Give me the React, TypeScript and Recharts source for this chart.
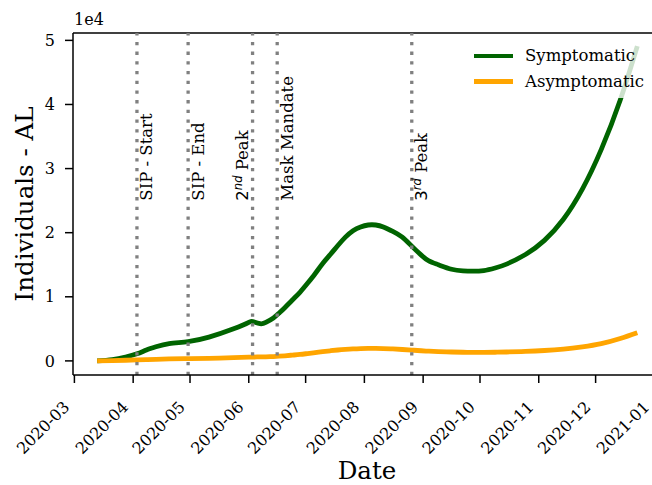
import { LineChart, Line, XAxis, YAxis, ReferenceLine, Legend } from 'recharts';

// samples, values in units of 1e4
const dates = [
  '2020-03-13', '2020-03-21', '2020-03-28', '2020-04-03', '2020-04-08', '2020-04-13',
  '2020-04-20', '2020-04-30', '2020-05-11', '2020-05-24', '2020-06-01', '2020-06-03',
  '2020-06-07', '2020-06-10', '2020-06-14', '2020-06-17', '2020-06-20', '2020-06-24',
  '2020-06-28', '2020-07-02', '2020-07-06', '2020-07-10', '2020-07-14', '2020-07-18',
  '2020-07-22', '2020-07-26', '2020-07-30', '2020-08-03', '2020-08-07', '2020-08-11',
  '2020-08-16', '2020-08-21', '2020-08-26', '2020-08-31', '2020-09-04', '2020-09-09',
  '2020-09-16', '2020-09-22', '2020-09-27', '2020-10-03', '2020-10-09', '2020-10-15',
  '2020-10-25', '2020-11-04', '2020-11-14', '2020-11-24', '2020-12-04', '2020-12-14',
  '2020-12-23',
];
const symptomatic = [
  0.0, 0.02, 0.06, 0.11, 0.17, 0.22,
  0.27, 0.3, 0.37, 0.5, 0.6, 0.615,
  0.58, 0.6, 0.67, 0.745, 0.83, 0.95,
  1.07, 1.21, 1.36, 1.52, 1.66, 1.8,
  1.93, 2.03, 2.09, 2.12, 2.12, 2.09,
  2.02, 1.93, 1.79, 1.65, 1.56, 1.5,
  1.43, 1.405, 1.4, 1.41, 1.45, 1.51,
  1.66, 1.88, 2.21, 2.68, 3.3, 4.07,
  4.91,
];
const asymptomatic = [
  0.0, 0.005, 0.01, 0.015, 0.02, 0.025,
  0.03, 0.035, 0.04, 0.05, 0.058, 0.06,
  0.062, 0.064, 0.068, 0.073, 0.08, 0.09,
  0.1, 0.115, 0.13, 0.145, 0.158, 0.17,
  0.18, 0.188, 0.193, 0.195, 0.195, 0.192,
  0.186, 0.178, 0.168, 0.158, 0.151, 0.145,
  0.139, 0.135, 0.133, 0.133, 0.135, 0.139,
  0.148, 0.162, 0.185, 0.22, 0.27, 0.35,
  0.44,
];
const seriesNames = ['Symptomatic', 'Asymptomatic'];

const eventDates = ['2020-04-03', '2020-04-30', '2020-06-03', '2020-06-16', '2020-08-26'];
const eventLabels = ['SIP - Start', 'SIP - End', '2nd Peak', 'Mask Mandate', '3rd Peak'];

const monthTicks = [
  '2020-03-01', '2020-04-01', '2020-05-01', '2020-06-01', '2020-07-01', '2020-08-01',
  '2020-09-01', '2020-10-01', '2020-11-01', '2020-12-01', '2021-01-01',
];
const yTicks = [0, 1, 2, 3, 4, 5];

const DAY = 86400000;
const toMs = (s: string) => Date.parse(s + 'T00:00:00Z');
const X_DOMAIN = [toMs('2020-03-01') - 0.74 * DAY, toMs('2020-03-01') + 309.5 * DAY];
const Y_DOMAIN = [-0.22, 5.115];
const LABEL_AT = 2.5;

const SERIF = "'DejaVu Serif', serif";
const SANS = "'DejaVu Sans', sans-serif";

const data = dates.map((d, i) => ({ t: toMs(d), sym: symptomatic[i], asym: asymptomatic[i] }));

function DateTick({ x, y, payload }: any) {
  const d = new Date(payload.value);
  const label = `${d.getUTCFullYear()}-${String(d.getUTCMonth() + 1).padStart(2, '0')}`;
  const ax = x - 4;
  const ay = y + 23;
  return (
    <text x={ax} y={ay} transform={`rotate(-45 ${ax} ${ay})`} textAnchor="end"
      fontSize={16} fontFamily={SERIF} fill="#000">
      {label}
    </text>
  );
}

function eventLabel(props: any, i: number) {
  const { x, y, height } = props.viewBox;
  const py = y + ((Y_DOMAIN[1] - LABEL_AT) / (Y_DOMAIN[1] - Y_DOMAIN[0])) * height;
  const bx = x + (i === 2 ? -4.5 : 15.5);
  const text = eventLabels[i];
  const m = text.match(/^(\d)(nd|rd) (.*)$/);
  return (
    <text x={bx} y={py} transform={`rotate(-90 ${bx} ${py})`} fontSize={16.5}
      fontFamily={SERIF} fill="#000">
      {m ? (
        <>
          <tspan fontFamily={SANS}>{m[1]}</tspan>
          <tspan fontFamily={SANS} fontStyle="italic" fontSize={11.5} dy={-6.5}>{m[2]}</tspan>
          <tspan dy={6.5}>{' ' + m[3]}</tspan>
        </>
      ) : text}
    </text>
  );
}

function renderLegend(props: any) {
  const items = [...(props.payload || [])].sort(
    (a: any, b: any) => seriesNames.indexOf(a.value) - seriesNames.indexOf(b.value),
  );
  return (
    <div style={{ padding: '3px 0 0 8px', fontFamily: SERIF, fontSize: 16.5, color: '#000' }}>
      {items.map((it: any) => (
        <div key={it.value} style={{ display: 'flex', alignItems: 'center', height: 25.5 }}>
          <div style={{ width: 39, height: 4.5, background: it.color, marginRight: 12 }} />
          <span>{it.value}</span>
        </div>
      ))}
    </div>
  );
}

export default function App() {
  return (
    <div style={{ position: 'absolute', left: 0, top: 0, width: 652, height: 485, overflow: 'hidden', background: '#fff', fontFamily: SERIF }}>
      <LineChart width={672} height={485} data={data} margin={{ top: 33, right: 11, bottom: 0, left: 13 }}>
        <XAxis
          dataKey="t"
          type="number"
          domain={X_DOMAIN}
          allowDataOverflow
          ticks={monthTicks.map(toMs)}
          interval={0}
          tick={<DateTick />}
          tickSize={8}
          tickMargin={2}
          height={110}
          axisLine={{ stroke: '#000', strokeWidth: 1.5 }}
          tickLine={{ stroke: '#000', strokeWidth: 1.5 }}
          label={(p: any) => (
            <text x={p.viewBox.x + p.viewBox.width / 2} y={p.viewBox.y + 104} textAnchor="middle"
              fontSize={24.5} fontFamily={SERIF} fill="#000">Date</text>
          )}
        />
        <YAxis
          type="number"
          domain={Y_DOMAIN}
          allowDataOverflow
          ticks={yTicks}
          interval={0}
          width={60}
          tickSize={8}
          tickMargin={10}
          tick={{ fontSize: 16, fill: '#000', fontFamily: SERIF }}
          axisLine={{ stroke: '#000', strokeWidth: 1.5 }}
          tickLine={{ stroke: '#000', strokeWidth: 1.5 }}
          label={(p: any) => {
            const lx = p.viewBox.x + 20;
            const ly = p.viewBox.y + p.viewBox.height / 2;
            return (
              <text x={lx} y={ly} transform={`rotate(-90 ${lx} ${ly})`} textAnchor="middle"
                fontSize={24.5} fontFamily={SERIF} fill="#000">Individuals - AL</text>
            );
          }}
        />
        <ReferenceLine
          y={Y_DOMAIN[1]}
          stroke="#000"
          strokeWidth={1.5}
          label={(p: any) => (
            <text x={p.viewBox.x + 1} y={p.viewBox.y - 8} fontSize={16} fontFamily={SERIF} fill="#000">1e4</text>
          )}
        />
        <Line type="natural" dataKey="sym" name="Symptomatic" stroke="#006400" strokeWidth={4.8}
          dot={false} activeDot={false} isAnimationActive={false} />
        <Line type="natural" dataKey="asym" name="Asymptomatic" stroke="#FFA500" strokeWidth={4.8}
          dot={false} activeDot={false} isAnimationActive={false} />
        {eventDates.map((d, i) => (
          <ReferenceLine key={d} x={toMs(d)} stroke="#808080" strokeWidth={3.3}
            strokeDasharray="3.3 6.4" label={(p: any) => eventLabel(p, i)} />
        ))}
        <Legend
          layout="vertical"
          align="center"
          verticalAlign="middle"
          content={renderLegend}
          wrapperStyle={{ top: 40, left: 466, width: 190, height: 58, background: 'rgba(255,255,255,0.8)', borderRadius: 4 }}
        />
      </LineChart>
    </div>
  );
}
